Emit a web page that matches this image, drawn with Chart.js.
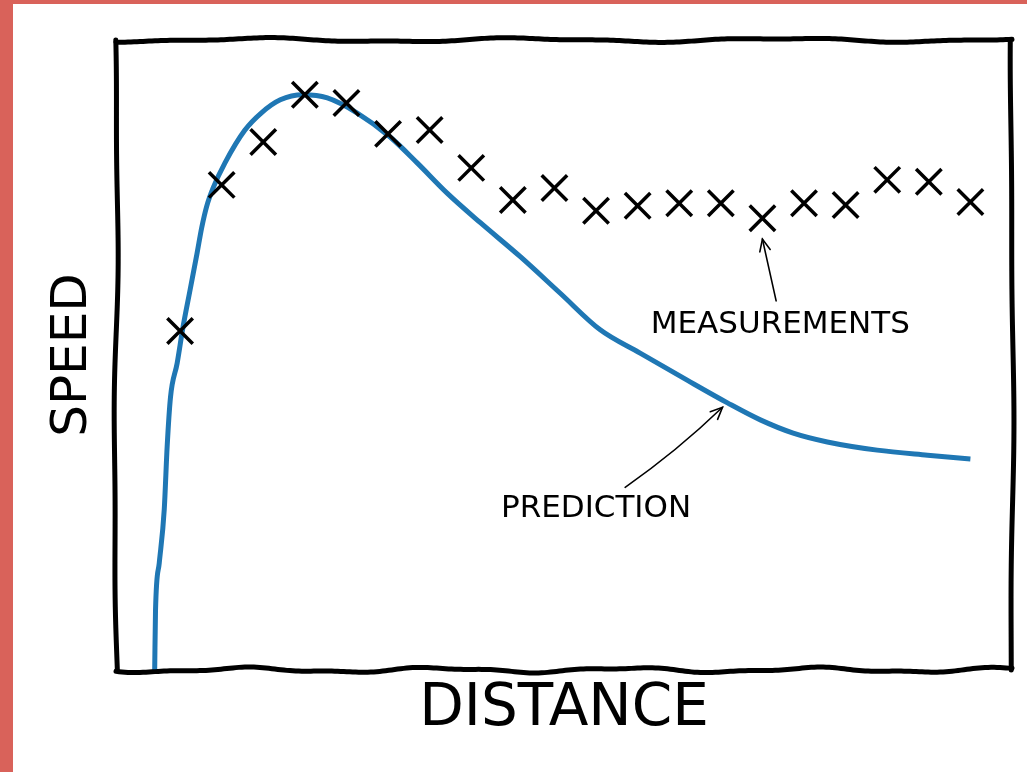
<!DOCTYPE html>
<html lang="en">
<head>
<meta charset="UTF-8">
<title>Speed vs distance</title>
<script src="https://cdn.jsdelivr.net/npm/chart.js"></script>
<style>
  html, body { margin: 0; padding: 0; background: #fff; }
  #frame {
    width: 1014px; height: 768px;
    border-left: 13px solid #d9625a;
    border-top: 4px solid #d9625a;
  }
  canvas { display: block; }
</style>
</head>
<body>

<div id="frame"><canvas id="xkcd" width="1014" height="768"></canvas></div>

<script>
  // measured speeds, one per distance step
  const measureX = [1, 2, 3, 4, 5, 6, 7, 8, 9, 10, 11, 12, 13, 14, 15, 16, 17, 18, 19, 20];
  const measureY = [53.8, 77.0, 83.8, 91.3, 90.0, 85.1, 85.7, 79.7, 74.6, 76.5,
                    72.9, 73.7, 74.1, 74.1, 71.7, 74.1, 73.8, 77.8, 77.5, 74.3];

  // predicted curve
  const predX = [0.39, 0.41, 0.50, 0.62, 0.69, 0.77, 0.93, 1.07, 1.24, 1.41, 1.52, 1.64,
                 1.80, 2.08, 2.56, 2.95, 3.41, 3.96, 4.54, 5.26, 6.05, 6.70, 7.42, 8.22,
                 9.18, 10.14, 11.10, 12.06, 13.19, 14.16, 14.95, 15.74, 16.56, 17.76,
                 18.97, 20.00];
  const predY = [0, 9.5, 17.0, 25.5, 35.5, 43.3, 48.7, 54.4, 60.3, 66.2, 70.2, 73.6,
                 76.6, 80.5, 85.7, 88.4, 90.5, 91.3, 90.8, 88.4, 84.6, 80.5, 75.7, 71.0,
                 65.6, 59.8, 54.0, 50.3, 46.0, 42.4, 39.7, 37.6, 36.2, 34.9, 34.1, 33.5];

  // annotations: label, where the label sits, arrow tail, arrow tip (data units)
  const notes = [
    { text: 'MEASUREMENTS', at: [15.43, 54.7], tail: [15.33, 58.6], tip: [15.0, 68.4], bend: 0 },
    { text: 'PREDICTION',   at: [11.0, 25.5],  tail: [11.70, 29.0], tip: [14.04, 41.7], bend: 5 }
  ];

  const ink = '#000000';

  function wobble(ctx, x0, y0, x1, y1, amp, wave, phase) {
    const len = Math.hypot(x1 - x0, y1 - y0);
    const nx = -(y1 - y0) / len, ny = (x1 - x0) / len;
    const steps = Math.ceil(len / 3);
    ctx.beginPath();
    for (let i = 0; i <= steps; i++) {
      const t = i / steps, s = t * len;
      const d = amp * (0.7 * Math.sin(2 * Math.PI * s / wave + phase) +
                       0.3 * Math.sin(2 * Math.PI * s / (wave * 0.43) + phase * 1.7));
      const x = x0 + (x1 - x0) * t + nx * d;
      const y = y0 + (y1 - y0) * t + ny * d;
      if (i === 0) ctx.moveTo(x, y); else ctx.lineTo(x, y);
    }
    ctx.stroke();
  }

  function arrow(ctx, x0, y0, x1, y1, bend) {
    const mx = (x0 + x1) / 2, my = (y0 + y1) / 2;
    const len = Math.hypot(x1 - x0, y1 - y0);
    const cx = mx + (-(y1 - y0) / len) * bend, cy = my + ((x1 - x0) / len) * bend;
    ctx.beginPath();
    ctx.moveTo(x0, y0);
    ctx.quadraticCurveTo(cx, cy, x1, y1);
    ctx.stroke();
    const ang = Math.atan2(y1 - cy, x1 - cx);
    const head = 13;
    ctx.beginPath();
    ctx.moveTo(x1 - head * Math.cos(ang - 0.42), y1 - head * Math.sin(ang - 0.42));
    ctx.lineTo(x1, y1);
    ctx.lineTo(x1 - head * Math.cos(ang + 0.42), y1 - head * Math.sin(ang + 0.42));
    ctx.stroke();
  }

  const sketchPlugin = {
    id: 'sketch',
    afterDatasetsDraw(chart) {
      const { ctx, chartArea: a, scales: { x, y } } = chart;
      ctx.save();
      ctx.strokeStyle = ink;
      ctx.lineCap = 'round';
      ctx.lineWidth = 5;
      wobble(ctx, a.left, a.top, a.right, a.top, 2.5, 260, 1.2);
      wobble(ctx, a.left, a.bottom, a.right, a.bottom, 3, 190, 0.4);
      wobble(ctx, a.left, a.top, a.left, a.bottom, 2.5, 520, 2.6);
      wobble(ctx, a.right, a.top, a.right, a.bottom, 2, 600, 0.9);

      ctx.lineWidth = 1.6;
      ctx.fillStyle = ink;
      ctx.font = '31px "DejaVu Sans"';
      ctx.textAlign = 'center';
      ctx.textBaseline = 'middle';
      notes.forEach(n => {
        arrow(ctx, x.getPixelForValue(n.tail[0]), y.getPixelForValue(n.tail[1]),
              x.getPixelForValue(n.tip[0]), y.getPixelForValue(n.tip[1]), n.bend);
        ctx.fillText(n.text, x.getPixelForValue(n.at[0]), y.getPixelForValue(n.at[1]));
      });
      ctx.restore();
    }
  };

  const ctx = document.getElementById('xkcd').getContext('2d');
  const chart = new Chart(ctx, {
    type: 'scatter',
    data: {
      datasets: [
        {
          label: 'Measurements',
          data: measureX.map((v, i) => ({ x: v, y: measureY[i] })),
          pointStyle: 'crossRot',
          pointRadius: 18,
          pointBorderWidth: 3.5,
          borderColor: ink,
          backgroundColor: ink,
          showLine: false,
          order: 0
        },
        {
          label: 'Prediction',
          data: predX.map((v, i) => ({ x: v, y: predY[i] })),
          showLine: true,
          borderColor: '#1f77b4',
          borderWidth: 5,
          pointRadius: 0,
          cubicInterpolationMode: 'monotone',
          order: 1
        }
      ]
    },
    options: {
      responsive: false,
      animation: false,
      layout: { autoPadding: false, padding: { left: 35, right: 15, top: 36, bottom: 33 } },
      plugins: { legend: { display: false }, tooltip: { enabled: false } },
      scales: {
        x: {
          type: 'linear', min: -0.54, max: 21,
          ticks: { display: false },
          grid: { display: false, drawTicks: false },
          border: { display: false },
          title: {
            display: true, text: 'DISTANCE', color: ink,
            font: { family: 'DejaVu Sans', size: 58, lineHeight: 1 },
            padding: { top: 11, bottom: 0 }
          }
        },
        y: {
          type: 'linear', min: 0, max: 100,
          ticks: { display: false },
          grid: { display: false, drawTicks: false },
          border: { display: false },
          title: {
            display: true, text: 'SPEED', color: ink,
            font: { family: 'DejaVu Sans', size: 50, lineHeight: 1 },
            padding: { top: 0, bottom: 18 }
          }
        }
      }
    },
    plugins: [sketchPlugin]
  });
</script>

</body>
</html>
